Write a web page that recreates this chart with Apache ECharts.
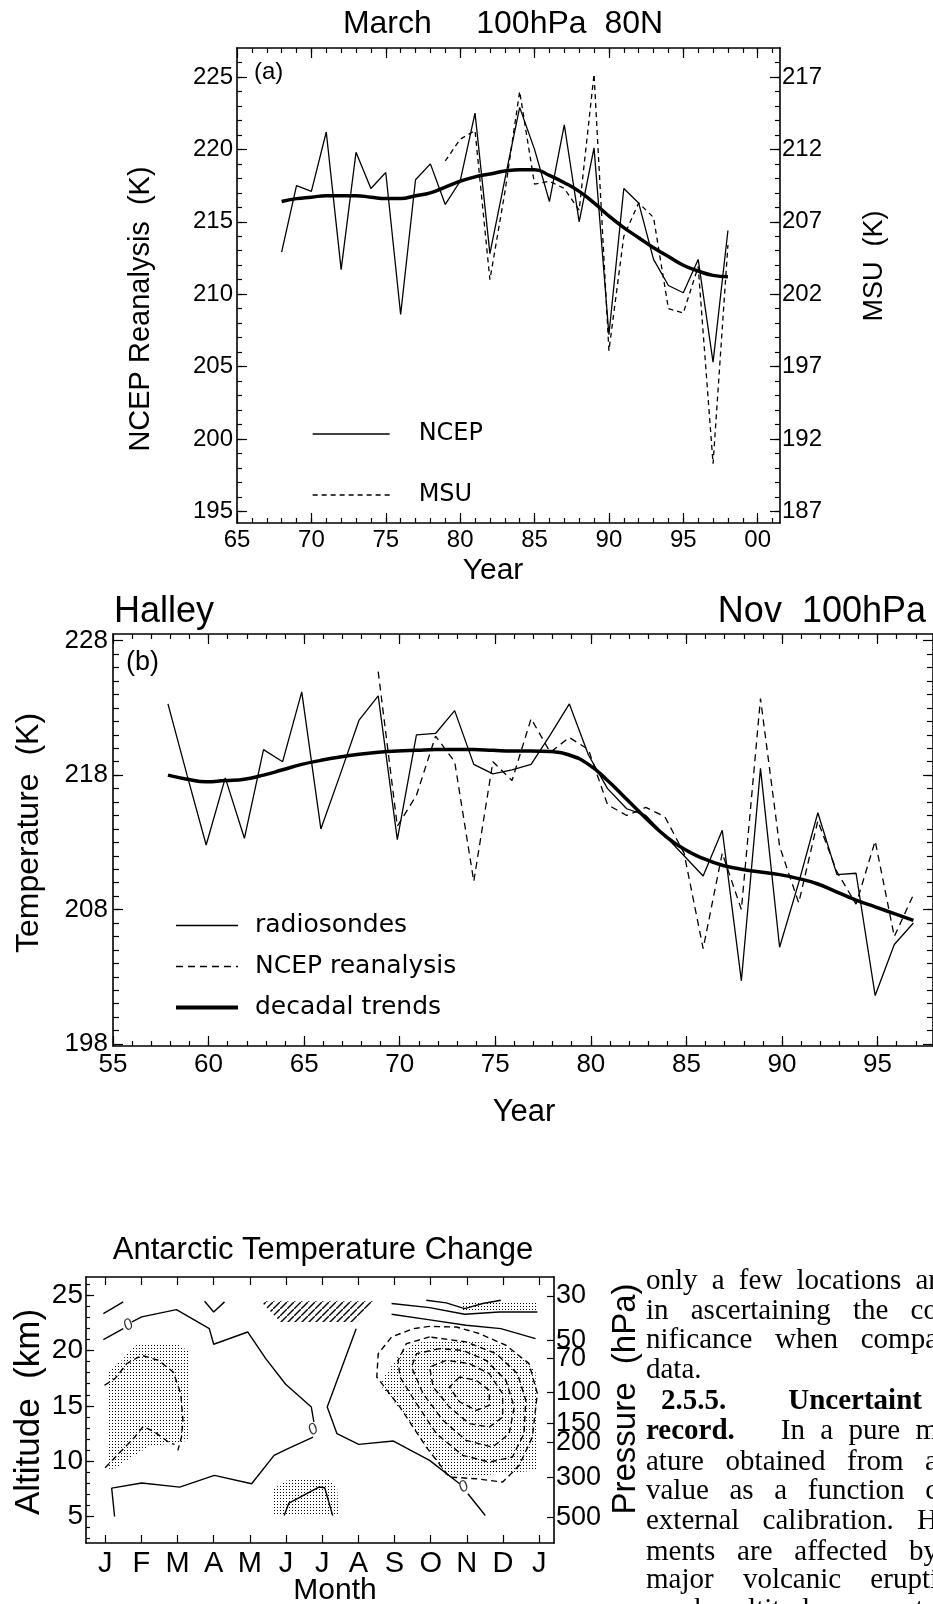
<!DOCTYPE html>
<html><head><meta charset="utf-8">
<script src="https://cdn.jsdelivr.net/npm/echarts@6/dist/echarts.min.js"></script>
<style>
html,body{margin:0;padding:0;background:#fff;overflow:hidden;}
#wrap{position:relative;width:933px;height:1604px;overflow:hidden;}
#c{position:absolute;left:0;top:0;width:933px;height:1604px;}
#body{position:absolute;left:646px;top:0;width:287px;height:1604px;overflow:hidden;}
.ln{position:absolute;left:0;width:292px;font-family:'Liberation Serif','Times New Roman',serif;font-size:29px;line-height:30px;color:#000;text-align:justify;text-align-last:justify;white-space:normal;}
.ln.l{text-align:left;text-align-last:left;white-space:nowrap;}
.gap{display:inline-block;width:62px;}
</style>
</head><body><div id="wrap"><div id="c"></div><div id="body"></div></div>
<script>
// ---------------- DATA ----------------
// Panel (a): March 100hPa 80N
const yearsA = [1968,1969,1970,1971,1972,1973,1974,1975,1976,1977,1978,1979,1980,1981,1982,1983,1984,1985,1986,1987,1988,1989,1990,1991,1992,1993,1994,1995,1996,1997,1998];
const ncepA  = [212.9,217.5,217.1,221.2,211.7,219.8,217.3,218.4,208.6,217.9,219.0,216.2,217.8,222.5,212.8,217.9,222.9,220.0,216.4,221.7,215.0,220.1,207.2,217.3,216.3,212.4,210.6,210.1,212.4,205.3,214.4];
const trendA = [216.4,216.6,216.7,216.8,216.8,216.8,216.7,216.6,216.6,216.8,217.0,217.4,217.8,218.1,218.3,218.5,218.6,218.6,218.2,217.7,217.1,216.3,215.4,214.6,213.9,213.2,212.6,212.0,211.6,211.3,211.2];
const yearsMSU = [1979,1980,1981,1982,1983,1984,1985,1986,1987,1988,1989,1990,1991,1992,1993,1994,1995,1996,1997,1998];
const msuA   = [211.2,212.7,213.3,203.0,209.0,216.0,209.6,209.8,209.3,207.8,217.2,198.1,206.0,208.3,207.3,201.0,200.7,203.9,190.3,205.4];
const xTicksA = [1965,1970,1975,1980,1985,1990,1995,2000];
const xTickLabelsA = ['65','70','75','80','85','90','95','00'];
const yTicksA = [195,200,205,210,215,220,225];
const yTicksMSU = [187,192,197,202,207,212,217];

// Panel (b): Halley Nov 100hPa (November values)
const yearsB = [1957,1958,1959,1960,1961,1962,1963,1964,1965,1966,1967,1968,1969,1970,1971,1972,1973,1974,1975,1976,1977,1978,1979,1980,1981,1982,1983,1984,1985,1986,1987,1988,1989,1990,1991,1992,1993,1994,1995,1996];
const sondeB = [223.3,218.0,212.8,217.8,213.3,219.9,219.0,224.2,214.0,218.0,222.1,223.9,213.2,221.0,221.1,222.8,218.8,218.1,218.4,218.8,221.0,223.3,219.5,217.0,215.5,215.0,213.5,212.0,210.5,213.9,202.7,218.5,205.2,210.0,215.2,210.6,210.7,201.6,205.4,207.0];
const trendB = [218.0,217.7,217.5,217.6,217.7,218.0,218.4,218.8,219.1,219.35,219.55,219.7,219.8,219.85,219.9,219.9,219.9,219.85,219.8,219.8,219.75,219.5,218.8,217.6,216.2,214.8,213.5,212.5,211.8,211.3,211.0,210.8,210.6,210.3,209.9,209.3,208.7,208.2,207.7,207.2];
const yearsNcepB = [1968,1969,1970,1971,1972,1973,1974,1975,1976,1977,1978,1979,1980,1981,1982,1983,1984,1985,1986,1987,1988,1989,1990,1991,1992,1993,1994,1995,1996];
const ncepB  = [225.7,214.2,216.5,220.9,219.0,210.1,219.0,217.6,222.2,219.7,220.8,219.9,215.8,215.0,215.6,214.9,212.2,205.1,212.2,208.0,223.7,212.7,208.5,214.6,210.8,208.4,213.1,206.0,209.1];
const monthFracNov = 10.5 / 12;
const xTicksB = [1955,1960,1965,1970,1975,1980,1985,1990,1995];
const xTickLabelsB = ['55','60','65','70','75','80','85','90','95'];
const yTicksB = [198,208,218,228];

// Panel (c): Antarctic temperature change (month index 0=Jan ... 12=Jan, altitude km)
const monthTicks = [0,1,2,3,4,5,6,7,8,9,10,11,12];
const monthLabels = ['J','F','M','A','M','J','J','A','S','O','N','D','J'];
const altTicks = [5,10,15,20,25];
const pressureLabels = ['30','50','70','100','150','200','300','500'];
const pressureAlt = [24.95,20.9,19.3,16.2,13.4,11.7,8.55,4.9];
// zero contours (solid)
const zeroW1 = [[-0.05,20.99],[0.50,21.98]];
const zeroW2 = [[0.74,22.6],[1.01,23.04],[1.97,23.70],[2.88,21.98],[3.00,20.57],[3.94,21.68],[4.44,19.27],[4.99,16.95],[5.70,14.89],[5.77,13.54]];
const zeroW3 = [[5.75,12.18],[5.04,11.12],[4.67,10.52],[4.05,7.96],[3.02,8.71],[2.06,7.65],[1.01,8.02],[0.18,7.56],[0.26,5.0]];
const zeroE1 = [[6.94,21.98],[6.14,14.89],[6.41,12.48],[7.01,11.52],[7.97,11.82],[8.97,10.07],[9.80,7.96]];
const zeroE2 = [[10.03,7.05],[10.51,5.09]];
const zeroLabelPts = [[0.64,22.30],[5.75,12.84],[9.91,7.66]];
// positive contours (solid)
const posNW  = [[-0.05,23.34],[0.50,24.40]];
const posApr = [[2.75,24.46],[3.00,23.49],[3.30,24.40]];
const posNE1 = [[8.88,24.55],[9.43,24.31],[9.94,23.79],[10.44,24.25],[10.94,24.55]];
const posNE2 = [[7.92,24.25],[8.97,23.88],[9.94,23.28],[10.90,23.49],[11.95,23.49]];
const posNE3 = [[7.92,23.28],[8.93,22.80],[9.98,22.29],[10.94,21.98],[11.90,21.08]];
const posJun = [[4.95,5.09],[5.08,6.21],[5.91,7.66],[6.07,7.59],[6.29,5.09]];
// negative contours (dashed)
const negW1 = [[-0.02,16.86],[0.27,17.46],[0.60,18.82],[1.01,19.57],[1.47,19.12],[1.88,18.06],[2.09,16.10],[2.15,13.69],[2.11,12.18],[2.01,10.97]];
const negW2 = [[0,9.40],[0.37,10.67],[0.82,12.18],[1.05,13.14],[1.37,12.63],[1.79,11.64],[1.92,11.52]];
const negE1 = [[8.97,22.19],[8.52,21.98],[7.92,21.23],[7.55,19.72],[7.51,17.61],[8.15,14.89],[8.88,11.27],[9.52,8.56],[10.26,8.41],[10.99,8.11],[11.45,9.62],[11.81,12.18],[11.95,16.10],[11.72,18.82],[11.08,20.48],[10.35,21.53],[9.71,22.13],[8.97,22.19]];
const negE2 = [[8.97,21.23],[8.33,20.63],[8.10,19.12],[8.15,17.61],[8.61,15.20],[9.16,12.48],[9.89,10.52],[10.62,9.92],[11.26,10.37],[11.58,12.48],[11.63,15.50],[11.40,17.91],[10.81,19.72],[9.98,20.78],[8.97,21.23]];
const negE3 = [[9.25,20.17],[8.61,19.72],[8.47,18.51],[8.79,16.10],[9.34,13.69],[9.98,11.88],[10.71,11.27],[11.17,12.48],[11.31,14.89],[11.08,17.31],[10.53,19.12],[9.89,20.02],[9.25,20.17]];
const negE4 = [[9.43,19.12],[8.97,18.51],[9.07,16.70],[9.52,14.89],[10.07,13.39],[10.62,13.08],[10.99,13.99],[10.99,16.10],[10.62,17.91],[10.07,18.82],[9.43,19.12]];
const negE5 = [[9.80,17.61],[9.52,16.70],[9.80,15.35],[10.26,14.59],[10.62,15.05],[10.62,16.40],[10.26,17.31],[9.80,17.61]];
// significance regions
const stippleW   = [[0.05,18.06],[0.46,19.12],[0.82,20.48],[2.01,20.57],[2.34,19.87],[2.34,12.18],[2.11,11.58],[1.65,11.52],[1.19,11.27],[0.73,10.37],[0.27,9.31],[0.05,9.31]];
const stippleE   = [[7.65,17.31],[8.15,19.72],[8.52,20.63],[9.07,20.93],[9.89,20.93],[10.81,20.63],[11.45,19.72],[11.90,18.21],[11.95,9.16],[11.45,9.01],[10.81,8.86],[10.16,8.56],[9.43,8.71],[8.88,11.27],[8.33,13.99],[7.65,16.70]];
const stippleNE  = [[9.89,24.49],[11.95,24.49],[11.95,23.49],[9.89,23.49]];
const stippleJun = [[4.62,5.09],[4.62,7.35],[4.95,8.20],[5.40,8.41],[6.14,8.41],[6.41,7.66],[6.46,5.09]];
const hatchJul   = [[4.30,24.46],[7.42,24.46],[6.96,22.59],[4.85,22.59]];

const bodyLines = [
  ['only a few locations ar', 0],
  ['in ascertaining the co', 0],
  ['nificance when compa', 0],
  ['data.', 1],
  ['<b>2.5.5.</b><span class="gap"></span><b>Uncertaint</b>', 2],
  ['<b>record.</b>&nbsp;&nbsp; In a pure m', 0],
  ['ature obtained from a', 0],
  ['value as a function c', 0],
  ['external calibration. H', 0],
  ['ments are affected by', 0],
  ['major volcanic erupti', 0],
  ['reach altitudes up to', 0]
];

// ---------------- RENDER ----------------
const SANS = "'Liberation Sans', Arial, sans-serif";
const HERSHEY = "'DejaVu Sans', sans-serif";
const range = (a, b) => { const r = []; for (let i = a; i <= b; i++) r.push(i); return r; };
const zip = (xs, ys, dx) => xs.map((x, i) => [x + (dx || 0), ys[i]]);

function mkAxis(o) {
  return {
    type: 'value', gridIndex: o.grid, position: o.pos, min: o.min, max: o.max,
    axisLine: { show: o.line !== false, onZero: false, lineStyle: { color: '#000', width: 1.6 } },
    axisTick: { show: true, inside: true, length: o.len, customValues: o.ticks, lineStyle: { color: '#000', width: 1.2 } },
    axisLabel: o.label ? Object.assign({ show: true, customValues: o.ticks, color: '#000', fontFamily: SANS }, o.label) : { show: false },
    splitLine: { show: false }, splitArea: { show: false }, minorTick: { show: false }
  };
}

const xA = { min: 1965, max: 2001.5 }, yA = { min: 194.2, max: 227 }, yM = { min: 186.2, max: 219 };
const xB = { min: 1955, max: 1997.9 }, yB = { min: 197.85, max: 228.5 };
const xC = { min: -0.53, max: 12.41 }, yC = { min: 2.6, max: 26.65 };

const xAxes = [
  mkAxis({ grid: 0, pos: 'bottom', ...xA, ticks: xTicksA, len: 10, label: { fontSize: 24, margin: 5, formatter: v => xTickLabelsA[xTicksA.indexOf(v)] } }),
  mkAxis({ grid: 0, pos: 'bottom', ...xA, ticks: range(1966, 2001), len: 5, line: false }),
  mkAxis({ grid: 0, pos: 'top', ...xA, ticks: xTicksA, len: 10 }),
  mkAxis({ grid: 0, pos: 'top', ...xA, ticks: range(1966, 2001), len: 5, line: false }),
  mkAxis({ grid: 1, pos: 'bottom', ...xB, ticks: xTicksB, len: 10, label: { fontSize: 26, margin: 6, formatter: v => xTickLabelsB[xTicksB.indexOf(v)] } }),
  mkAxis({ grid: 1, pos: 'bottom', ...xB, ticks: range(1956, 1997), len: 5, line: false }),
  mkAxis({ grid: 1, pos: 'top', ...xB, ticks: xTicksB, len: 10 }),
  mkAxis({ grid: 1, pos: 'top', ...xB, ticks: range(1956, 1997), len: 5, line: false }),
  mkAxis({ grid: 2, pos: 'bottom', ...xC, ticks: monthTicks, len: 8, label: { fontSize: 29, margin: 6, formatter: v => monthLabels[monthTicks.indexOf(v)] } }),
  mkAxis({ grid: 2, pos: 'top', ...xC, ticks: monthTicks, len: 8 })
];
const yAxes = [
  mkAxis({ grid: 0, pos: 'left', ...yA, ticks: yTicksA, len: 10, label: { fontSize: 24, margin: 4 } }),
  mkAxis({ grid: 0, pos: 'left', ...yA, ticks: range(195, 226), len: 5, line: false }),
  mkAxis({ grid: 0, pos: 'right', ...yM, ticks: yTicksMSU, len: 10, label: { fontSize: 24, margin: 2 } }),
  mkAxis({ grid: 0, pos: 'right', ...yM, ticks: range(187, 218), len: 5, line: false }),
  mkAxis({ grid: 1, pos: 'left', ...yB, ticks: yTicksB, len: 10, label: { fontSize: 26, margin: 5 } }),
  mkAxis({ grid: 1, pos: 'left', ...yB, ticks: range(199, 227), len: 6, line: false }),
  mkAxis({ grid: 1, pos: 'right', ...yB, ticks: yTicksB, len: 10 }),
  mkAxis({ grid: 1, pos: 'right', ...yB, ticks: range(199, 227), len: 6, line: false }),
  mkAxis({ grid: 2, pos: 'left', ...yC, ticks: altTicks, len: 8, label: { fontSize: 28, margin: 3 } }),
  mkAxis({ grid: 2, pos: 'left', ...yC, ticks: range(3, 26), len: 4, line: false }),
  mkAxis({ grid: 2, pos: 'right', ...yC, ticks: pressureAlt, len: 7, label: { fontSize: 27, margin: 2, formatter: v => pressureLabels[pressureAlt.indexOf(v)] } })
];

function mkPattern(kind) {
  const c = document.createElement('canvas');
  const g = c.getContext('2d');
  if (kind === 'dots') {
    c.width = 3; c.height = 3;
    g.fillStyle = '#000'; g.fillRect(1, 1, 1, 1);
  } else {
    c.width = 7; c.height = 7;
    g.strokeStyle = '#000'; g.lineWidth = 1.4;
    g.beginPath(); g.moveTo(-1, 8); g.lineTo(8, -1); g.stroke();
  }
  return { image: c, repeat: 'repeat' };
}
const dots = mkPattern('dots'), hatch = mkPattern('hatch');

function polySeries(pts, fill) {
  return {
    type: 'custom', xAxisIndex: 8, yAxisIndex: 8, data: pts, silent: true, clip: true, z: 1,
    renderItem: (params, api) => {
      if (params.dataIndex !== 0) return null;
      return { type: 'polygon', shape: { points: pts.map(p => api.coord(p)) }, style: { fill: fill, stroke: null } };
    }
  };
}
function contour(pts, dashed) {
  return {
    type: 'line', xAxisIndex: 8, yAxisIndex: 8, data: pts, showSymbol: false, symbol: 'none', silent: true, z: 3,
    lineStyle: { color: '#000', width: 1.4, type: dashed ? [6, 4] : 'solid' }
  };
}
const blk = { color: '#000' };

const series = [
  { name: 'trendA', type: 'line', xAxisIndex: 0, yAxisIndex: 0, data: zip(yearsA, trendA), smooth: 0.5, symbol: 'none', itemStyle: blk, lineStyle: { color: '#000', width: 3.5 }, z: 4 },
  { name: 'NCEP', type: 'line', xAxisIndex: 0, yAxisIndex: 0, data: zip(yearsA, ncepA), symbol: 'none', itemStyle: blk, lineStyle: { color: '#000', width: 1.3 }, z: 3 },
  { name: 'MSU', type: 'line', xAxisIndex: 0, yAxisIndex: 2, data: zip(yearsMSU, msuA), symbol: 'none', itemStyle: blk, lineStyle: { color: '#000', width: 1.3, type: [5, 4] }, z: 3 },
  { name: 'radiosondes', type: 'line', xAxisIndex: 4, yAxisIndex: 4, data: zip(yearsB, sondeB, monthFracNov), symbol: 'none', itemStyle: blk, lineStyle: { color: '#000', width: 1.3 }, z: 3 },
  { name: 'NCEP reanalysis', type: 'line', xAxisIndex: 4, yAxisIndex: 4, data: zip(yearsNcepB, ncepB, monthFracNov), symbol: 'none', itemStyle: blk, lineStyle: { color: '#000', width: 1.3, type: [7, 5] }, z: 3 },
  { name: 'decadal trends', type: 'line', xAxisIndex: 4, yAxisIndex: 4, data: zip(yearsB, trendB, monthFracNov), smooth: 0.5, symbol: 'none', itemStyle: blk, lineStyle: { color: '#000', width: 3.5 }, z: 4 },
  polySeries(stippleW, dots), polySeries(stippleE, dots), polySeries(stippleNE, dots), polySeries(stippleJun, dots), polySeries(hatchJul, hatch),
  contour(zeroW1), contour(zeroW2), contour(zeroW3), contour(zeroE1), contour(zeroE2),
  contour(posNW), contour(posApr), contour(posNE1), contour(posNE2), contour(posNE3), contour(posJun),
  contour(negW1, true), contour(negW2, true), contour(negE1, true), contour(negE2, true), contour(negE3, true), contour(negE4, true), contour(negE5, true),
  { type: 'scatter', xAxisIndex: 8, yAxisIndex: 8, data: zeroLabelPts, symbolSize: 1, itemStyle: { color: 'rgba(0,0,0,0)' }, silent: true, z: 5,
    label: { show: true, formatter: '0', position: 'inside', color: '#000', fontSize: 16, fontFamily: SANS, fontStyle: 'italic', rotate: 30 } }
];

function txt(text, x, y, size, o) {
  o = o || {};
  return { type: 'text', x: x, y: y, rotation: o.rot || 0, z: 10, silent: true,
    style: { text: text, fontSize: size, fontFamily: o.family || SANS, fontWeight: o.weight || 'normal', fill: '#000',
      align: o.align || 'center', verticalAlign: 'middle', textAlign: o.align || 'center', textVerticalAlign: 'middle' } };
}

const graphics = [
  txt('March     100hPa  80N', 503, 24, 32),
  txt('(a)', 254, 72, 24, { align: 'left' }),
  txt('NCEP Reanalysis  (K)', 141, 309, 29, { rot: Math.PI / 2 }),
  txt('MSU  (K)', 875, 266, 27, { rot: Math.PI / 2 }),
  txt('Year', 493, 571, 30),
  txt('Halley', 114, 612, 36, { align: 'left' }),
  txt('Nov  100hPa', 926, 612, 36, { align: 'right' }),
  txt('(b)', 126, 663, 27, { align: 'left' }),
  txt('Temperature  (K)', 29, 833, 32, { rot: Math.PI / 2 }),
  txt('Year', 524, 1112, 31),
  txt('Antarctic Temperature Change', 323, 1250, 31),
  txt('Altitude  (km)', 29, 1412, 35, { rot: Math.PI / 2 }),
  txt('Pressure  (hPa)', 626, 1399, 33, { rot: Math.PI / 2 }),
  txt('Month', 335, 1591, 30)
];

const chart = echarts.init(document.getElementById('c'), null, { renderer: 'canvas', width: 933, height: 1604 });
chart.setOption({
  backgroundColor: '#fff',
  animation: false,
  grid: [
    { left: 237, top: 48, width: 543, height: 475 },
    { left: 113, top: 634, width: 820, height: 412 },
    { left: 86, top: 1277, width: 468, height: 266 }
  ],
  xAxis: xAxes,
  yAxis: yAxes,
  legend: [
    { data: ['NCEP', 'MSU'], orient: 'vertical', left: 312, top: 422, padding: 0, itemWidth: 77, itemHeight: 14, itemGap: 37, selectedMode: false,
      itemStyle: { opacity: 0 }, lineStyle: { width: 1.3 },
      textStyle: { fontSize: 24, fontFamily: HERSHEY, color: '#000', padding: [0, 0, 0, 24] } },
    { data: ['radiosondes', 'NCEP reanalysis', { name: 'decadal trends', lineStyle: { width: 4 } }], orient: 'vertical', left: 174, top: 913, padding: 0, itemWidth: 62, itemHeight: 14, itemGap: 16, selectedMode: false,
      itemStyle: { opacity: 0 }, lineStyle: { width: 1.3 },
      textStyle: { fontSize: 25, fontFamily: HERSHEY, color: '#000', padding: [0, 0, 0, 12] } }
  ],
  series: series,
  graphic: graphics
});

// body text column (cut by the page edge)
const bodyTops = [1264, 1294, 1323, 1353, 1384, 1414, 1445, 1474, 1504, 1535, 1563, 1593];
const bodyEl = document.getElementById('body');
bodyLines.forEach((ln, i) => {
  const d = document.createElement('div');
  d.className = 'ln' + (ln[1] >= 1 ? ' l' : '');
  d.style.top = bodyTops[i] + 'px';
  if (ln[1] === 2) { d.style.left = '15px'; d.style.width = '277px'; }
  d.innerHTML = ln[0];
  bodyEl.appendChild(d);
});
</script>
</body></html>
